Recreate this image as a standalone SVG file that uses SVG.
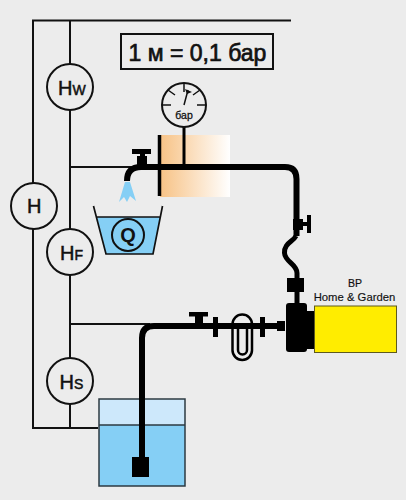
<svg xmlns="http://www.w3.org/2000/svg" width="406" height="500" viewBox="0 0 406 500">
<style>
.t{fill:none;stroke:#111;stroke-width:2}
.p{fill:none;stroke:#000;stroke-width:6}
.c{fill:#ececec;stroke:#111;stroke-width:2}
.k{fill:#000}
text{font-family:"Liberation Sans",Arial,sans-serif;fill:#111;stroke:#111;stroke-width:.5}
.b{font-size:20px}
.sub{font-size:14px}
.m{text-anchor:middle}
</style>
<defs>
<linearGradient id="g" x1="0" x2="1" y1="0" y2="0"><stop offset="0" stop-color="#f7c285"/><stop offset="1" stop-color="#fff"/></linearGradient>
</defs>
<rect width="406" height="500" fill="#ececec"/>
<g id="connectors">
<path class="t" d="M291 20.500H33V428H98"/>
<path class="t" d="M70 20.500V428"/>
<path class="t" d="M70 167H135M70 324H150"/>
</g>
<g id="gradient-band"><rect x="160" y="135" width="70" height="62" fill="url(#g)"/></g>
<g id="scale-label"><rect x="121" y="34" width="152" height="35" fill="#ececec" stroke="#111" stroke-width="2"/>
<text class="m" x="197.500" y="61" font-size="23" style="stroke-width:.7">1 м = 0,1 бар</text></g>
<g id="node-hw"><circle class="c" cx="70" cy="87" r="23"/><text class="b" x="58" y="95">H<tspan class="sub">W</tspan></text></g>
<g id="node-h"><circle class="c" cx="34" cy="206" r="23"/><text class="b" x="27" y="213">H</text></g>
<g id="node-hf"><circle class="c" cx="70" cy="252" r="23"/><text class="b" x="60" y="260">H<tspan class="sub">F</tspan></text></g>
<g id="node-hs"><circle class="c" cx="70" cy="381" r="23"/><text class="b" x="59.500" y="389">H<tspan class="sub">S</tspan></text></g>
<g id="tank">
<rect x="99" y="399" width="86" height="87" fill="#cde8fb"/>
<rect x="99" y="425" width="86" height="61" fill="#85cff5"/>
<path d="M99 399H185V486H99ZM99 425H185" fill="none" stroke="#2c3a42" stroke-width="1.500"/>
<rect class="k" x="132" y="457" width="17" height="20"/>
</g>
<g id="bucket">
<path d="M97 217H160L153 254H106Z" fill="#85cff5"/>
<path d="M93.500 206L106 254H153L162.500 206M96.500 217H159.500" fill="none" stroke="#111" stroke-width="1.700"/>
<circle cx="128" cy="235" r="16" fill="none" stroke="#111" stroke-width="2"/>
<text class="m" x="128" y="242" font-size="20" font-weight="700" style="stroke-width:0">Q</text>
</g>
<g id="pipes">
<path class="p" d="M127 181Q127 167 141 167H285Q296.500 167 296.500 179V236"/>
<path d="M296 236C293 242 284 243 284.500 253C285 262 297 264 297 273V303" fill="none" stroke="#000" stroke-width="5"/>
<path class="p" d="M142 460V338Q142 326 154 326H285"/>
<path d="M159.500 135V196" stroke="#000" stroke-width="3.500"/>
<path d="M184 127V167" stroke="#000" stroke-width="3"/>
</g>
<g id="tap">
<rect class="k" x="132" y="149" width="19" height="5"/><rect class="k" x="140" y="153" width="5" height="6"/><rect class="k" x="137" y="156" width="10" height="10"/>
<path d="M125 182H130L136 201L130 196L127 202L124 197L119 202Z" fill="#85cff5"/>
</g>
<g id="gauge">
<circle cx="184" cy="105" r="22" fill="#ececec" stroke="#111" stroke-width="2"/>
<path d="M184 83V92M168 90L175 95M200 90L193 95M162 105H171M197 105H206M184 105L188 90" fill="none" stroke="#111" stroke-width="1.500"/>
<path d="M185 89L192 92L187 94Z" fill="#111"/>
<text class="m" x="184" y="119" font-size="10.500" style="stroke-width:.3">бар</text>
</g>
<g id="valve-upper"><rect class="k" x="293" y="219" width="10" height="11"/><rect class="k" x="307" y="215" width="4" height="18"/><rect class="k" x="302" y="222" width="6" height="4"/></g>
<g id="coupling"><rect class="k" x="287" y="278" width="17" height="14"/></g>
<g id="valve-lower"><rect class="k" x="189" y="312" width="19" height="4.500"/><rect class="k" x="195" y="316" width="8" height="10"/></g>
<g id="filter"><rect class="k" x="213" y="317" width="5" height="20"/><rect class="k" x="260" y="317" width="5" height="20"/><rect class="k" x="277" y="321" width="8" height="10"/>
<rect x="232.500" y="314.500" width="19.500" height="45.500" rx="9.700" fill="none" stroke="#000" stroke-width="2.500"/>
<path d="M238 326V350A4.500 4.500 0 0 0 247 350V326" fill="none" stroke="#000" stroke-width="2.500"/></g>
<g id="pump">
<rect class="k" x="286" y="303" width="21" height="49" rx="3"/><rect class="k" x="306" y="311" width="9" height="38"/>
<rect x="314.500" y="306" width="82" height="46.500" fill="#ffed00" stroke="#5e5a1e" stroke-width="1"/>
<text class="m" x="355" y="287" font-size="10.500" style="stroke-width:.2">BP</text>
<text class="m" x="354.500" y="300.500" font-size="11.300" style="stroke-width:.15">Home &amp; Garden</text>
</g>
</svg>
